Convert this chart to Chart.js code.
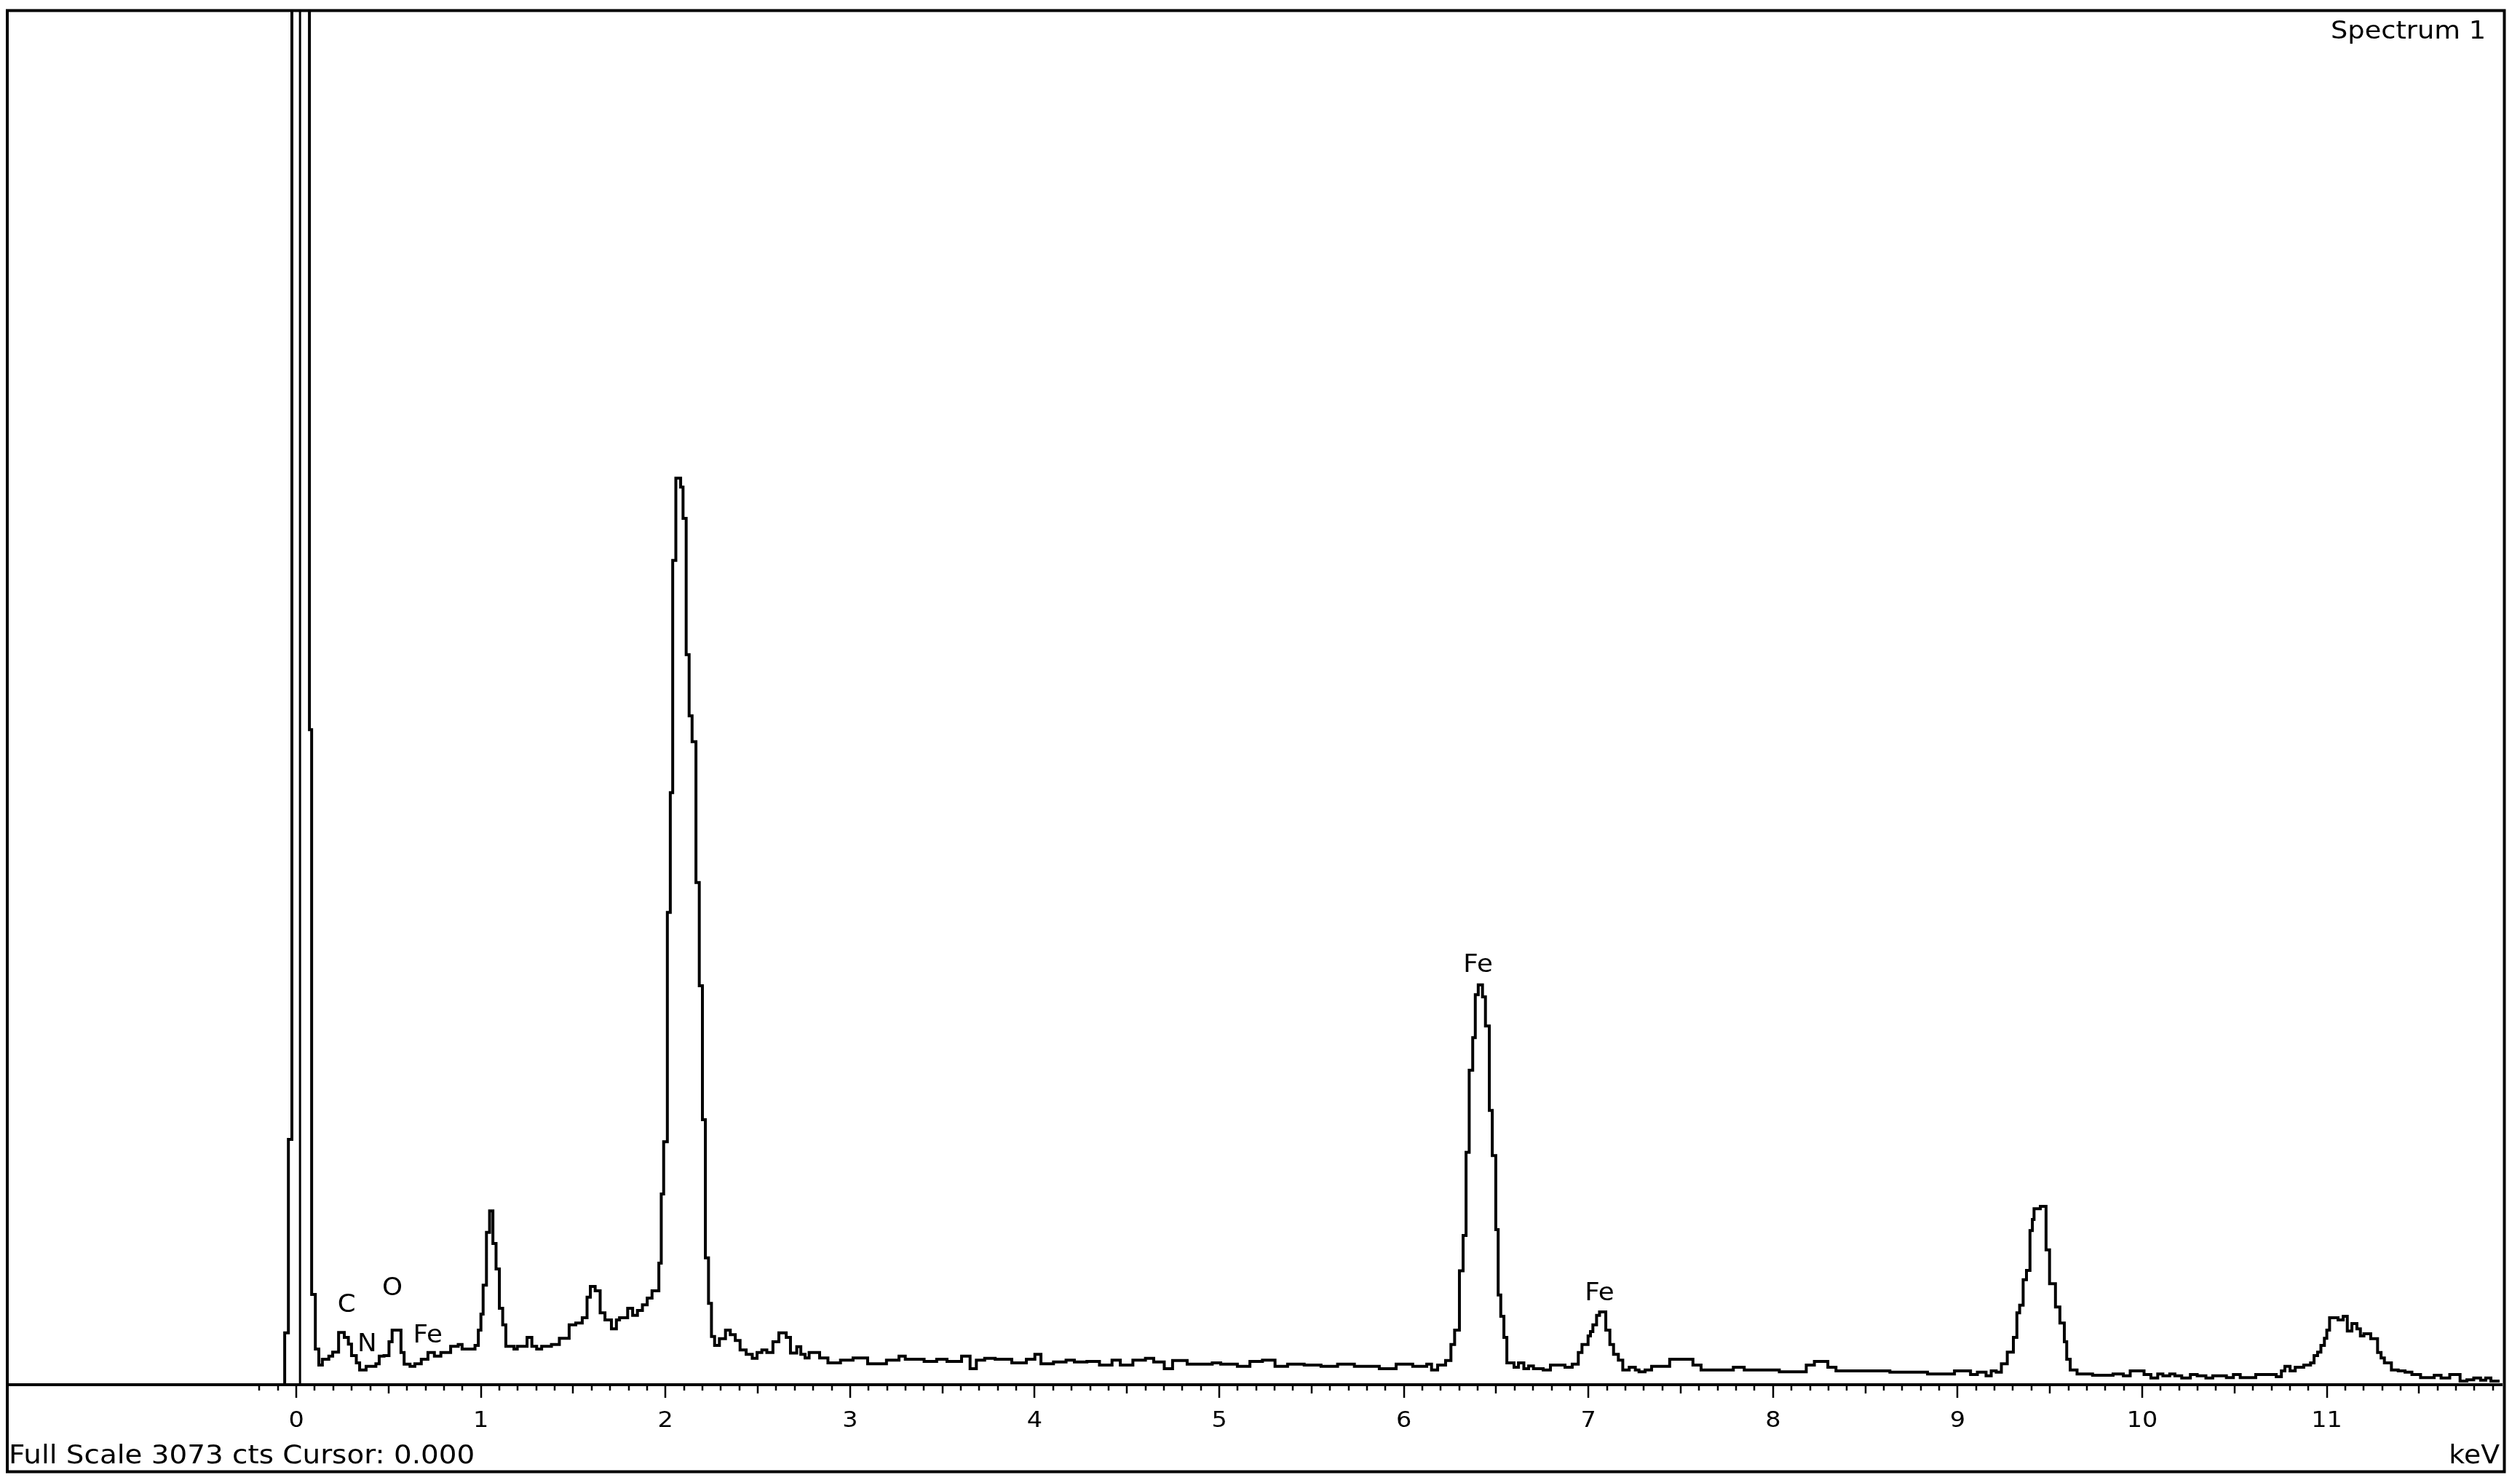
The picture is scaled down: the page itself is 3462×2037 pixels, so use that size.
<!DOCTYPE html>
<html lang="en">
<head>
    <meta charset="UTF-8">
    <title>Spectrum 1</title>
    <script src="https://cdn.jsdelivr.net/npm/chart.js"></script>
    <style>
        html, body {
            margin: 0;
            padding: 0;
            background-color: #ffffff;
        }
        canvas {
            display: block;
        }
    </style>
</head>
<body>
    <canvas id="spectrumChart" width="3462" height="2037"></canvas>
    <script>
        // Spectrum, one step = [start keV, counts]
        const zeroPeakKeV = [-0.083, -0.063, -0.043, -0.024, 0.071, 0.083, 0.103, 0.122];
        const zeroPeakCts = [0, 116, 549, 20000, 1466, 202, 80, 44];

        const lowKeV = [0.141, 0.176, 0.197, 0.229, 0.260, 0.282, 0.299, 0.325, 0.343, 0.378,
            0.431, 0.449, 0.475, 0.502, 0.519, 0.567, 0.584, 0.616, 0.642, 0.677,
            0.713, 0.748, 0.783, 0.836, 0.877, 0.898, 0.968, 0.986, 1.000, 1.012,
            1.030, 1.047, 1.065, 1.082, 1.100, 1.118, 1.135, 1.179, 1.197, 1.250,
            1.276, 1.302, 1.329, 1.382, 1.425, 1.478, 1.514, 1.549, 1.575, 1.593,
            1.619, 1.646, 1.672, 1.707, 1.734, 1.751, 1.795, 1.822, 1.848, 1.875,
            1.901, 1.927];
        const lowCts = [57, 64, 73, 117, 106, 91, 65, 49, 33, 41,
            47, 64, 65, 96, 122, 72, 46, 41, 47, 57,
            72, 64, 72, 86, 90, 80, 88, 122, 158, 223,
            341, 389, 316, 259, 171, 134, 86, 80, 86, 106,
            86, 80, 86, 90, 104, 134, 138, 150, 196, 220,
            210, 161, 145, 125, 145, 150, 171, 155, 166, 179,
            194, 210];

        const mainKeV = [1.964, 1.977, 1.990, 2.010, 2.026, 2.039, 2.056, 2.082, 2.095, 2.112,
            2.128, 2.144, 2.165, 2.183, 2.200, 2.216, 2.233, 2.249, 2.266, 2.292,
            2.325, 2.351, 2.378, 2.404, 2.437, 2.470, 2.496, 2.522, 2.549, 2.582,
            2.614, 2.654];
        const mainCts = [272, 427, 544, 1057, 1325, 1845, 2029, 2009, 1939, 1634,
            1497, 1439, 1124, 893, 593, 284, 182, 108, 88, 103,
            122, 112, 99, 78, 68, 59, 72, 78, 72, 96,
            116, 106];

        const midKeV = [2.677, 2.711, 2.733, 2.756, 2.778, 2.835, 2.880, 2.948, 3.016, 3.095,
            3.197, 3.265, 3.299, 3.401, 3.469, 3.525, 3.604, 3.650, 3.684, 3.729,
            3.786, 3.876, 3.955, 4.001, 4.034, 4.102, 4.170, 4.215, 4.283, 4.351,
            4.419, 4.464, 4.532, 4.600, 4.645, 4.702, 4.747, 4.826, 4.962, 5.008,
            5.098, 5.166, 5.234, 5.302, 5.370, 5.460, 5.551, 5.641, 5.732, 5.867,
            5.958, 6.048];
        const midCts = [71, 85, 68, 60, 72, 60, 49, 55, 60, 47,
            55, 64, 57, 52, 57, 52, 64, 36, 55, 59,
            57, 49, 57, 68, 47, 51, 55, 51, 52, 44,
            55, 44, 55, 59, 51, 36, 54, 46, 49, 46,
            41, 52, 55, 41, 46, 44, 41, 46, 41, 36,
            46, 41];

        const feKeV = [6.124, 6.150, 6.183, 6.226, 6.255, 6.275, 6.301, 6.321, 6.337, 6.354,
            6.373, 6.387, 6.403, 6.426, 6.442, 6.463, 6.479, 6.498, 6.511, 6.525,
            6.542, 6.558, 6.597, 6.621, 6.650, 6.676, 6.702, 6.755, 6.794, 6.873,
            6.912, 6.945, 6.965, 6.998, 7.011, 7.024, 7.044, 7.060, 7.094, 7.116,
            7.136, 7.162, 7.186, 7.221, 7.254, 7.274];
        const feCts = [46, 33, 44, 54, 90, 122, 255, 334, 520, 704,
            777, 873, 895, 868, 803, 614, 513, 347, 201, 153,
            106, 49, 39, 49, 36, 42, 36, 33, 44, 39,
            46, 72, 90, 109, 119, 134, 155, 163, 122, 90,
            68, 55, 33, 39, 33, 29];

        const gapKeV = [7.307, 7.342, 7.440, 7.566, 7.610, 7.785, 7.844, 8.034, 8.180, 8.224,
            8.297, 8.341, 8.633, 8.837, 8.983];
        const gapCts = [33, 41, 57, 44, 33, 39, 33, 29, 44, 52,
            39, 31, 28, 24, 31];

        const highKeV = [9.042, 9.070, 9.107, 9.154, 9.182, 9.209, 9.237, 9.269, 9.302, 9.321,
            9.336, 9.355, 9.373, 9.392, 9.405, 9.414, 9.448, 9.479, 9.498, 9.530,
            9.554, 9.578, 9.591, 9.610, 9.647, 9.731, 9.842, 9.898, 9.935, 10.010,
            10.047, 10.084, 10.112, 10.149, 10.177, 10.214, 10.261, 10.298, 10.345, 10.382,
            10.456, 10.494, 10.531, 10.615, 10.726, 10.754, 10.773, 10.801, 10.829, 10.875,
            10.912, 10.931, 10.950, 10.968, 10.987, 11.000, 11.015, 11.061, 11.089, 11.111,
            11.136, 11.163, 11.182, 11.201, 11.238, 11.275, 11.294, 11.312, 11.350, 11.387,
            11.424, 11.461, 11.508, 11.582, 11.619, 11.666, 11.722, 11.759, 11.796, 11.833,
            11.861, 11.889, 11.936];
        const highCts = [31, 23, 28, 20, 31, 28, 47, 73, 106, 161,
            178, 235, 256, 345, 370, 394, 399, 302, 226, 174,
            138, 96, 57, 33, 24, 21, 24, 20, 31, 23,
            15, 24, 20, 24, 20, 15, 23, 20, 15, 20,
            16, 23, 16, 23, 18, 31, 41, 31, 39, 44,
            49, 65, 73, 88, 104, 122, 150, 145, 153, 120,
            137, 125, 109, 114, 103, 72, 60, 49, 33, 31,
            28, 23, 16, 21, 15, 23, 8, 11, 15, 10,
            15, 8, 8];

        // Peak markers
        const peakNames = ['C', 'N', 'O', 'Fe', 'Fe', 'Fe'];
        const peakKeV = [0.272, 0.383, 0.520, 0.712, 6.402, 7.060];
        const peakCts = [182, 94, 220, 114, 943, 209];

        // Axis
        const tickValues = [0, 1, 2, 3, 4, 5, 6, 7, 8, 9, 10, 11];
        const tickLabels = ['0', '1', '2', '3', '4', '5', '6', '7', '8', '9', '10', '11'];
        const xMin = -1.558;
        const xMax = 11.952;
        const fullScale = 3073;
        const cursorKeV = 0.02;

        const titleText = 'Spectrum 1';
        const footerText = 'Full Scale 3073 cts Cursor: 0.000';
        const unitText = 'keV';

        const points = [];
        function addSegment(kev, cts) {
            kev.forEach((e, i) => points.push({ x: e, y: cts[i] }));
        }
        addSegment(zeroPeakKeV, zeroPeakCts);
        addSegment(lowKeV, lowCts);
        addSegment(mainKeV, mainCts);
        addSegment(midKeV, midCts);
        addSegment(feKeV, feCts);
        addSegment(gapKeV, gapCts);
        addSegment(highKeV, highCts);

        function drawText(ctx, str, px, py, size, align) {
            ctx.save();
            ctx.font = size + 'px "DejaVu Sans"';
            ctx.textAlign = align;
            ctx.textBaseline = 'alphabetic';
            ctx.translate(px, py);
            ctx.scale(1.08, 1);
            ctx.fillText(str, 0, 0);
            ctx.restore();
        }

        // Frame, axis, ticks, cursor and texts
        const framePlugin = {
            id: 'frame',
            afterDraw(chart) {
                const ctx = chart.ctx;
                const a = chart.chartArea;
                const x = chart.scales.x;
                const y = chart.scales.y;
                ctx.save();
                ctx.strokeStyle = '#000';
                ctx.fillStyle = '#000';

                ctx.lineWidth = 4;
                ctx.strokeRect(10, 14.5, 3430.5, 2007);

                ctx.beginPath();
                ctx.moveTo(a.left, a.bottom);
                ctx.lineTo(a.right, a.bottom);
                ctx.stroke();

                ctx.lineWidth = 2.5;
                ctx.beginPath();
                for (let i = -2; i <= 119; i++) {
                    const px = Math.round(x.getPixelForValue(i / 10));
                    const len = i % 10 === 0 ? 18 : (i % 5 === 0 ? 12 : 8);
                    ctx.moveTo(px, a.bottom);
                    ctx.lineTo(px, a.bottom + len);
                }
                ctx.stroke();

                tickValues.forEach((v, i) => {
                    drawText(ctx, tickLabels[i], x.getPixelForValue(v), 1960, 31, 'center');
                });

                // cursor line
                ctx.lineWidth = 3;
                ctx.beginPath();
                const cx = x.getPixelForValue(cursorKeV);
                ctx.moveTo(cx, a.bottom);
                ctx.lineTo(cx, a.top);
                ctx.stroke();

                peakNames.forEach((n, i) => {
                    drawText(ctx, n, x.getPixelForValue(peakKeV[i]), y.getPixelForValue(peakCts[i]) + 12, 33, 'center');
                });

                drawText(ctx, titleText, 3415, 53, 34, 'right');
                drawText(ctx, footerText, 12, 2010, 36, 'left');
                drawText(ctx, unitText, 3434, 2010, 35, 'right');
                ctx.restore();
            }
        };

        const ctx = document.getElementById('spectrumChart').getContext('2d');
        new Chart(ctx, {
            type: 'line',
            data: {
                datasets: [{
                    label: titleText,
                    data: points,
                    stepped: true,
                    borderColor: '#000000',
                    borderWidth: 4,
                    pointRadius: 0,
                    fill: false
                }]
            },
            options: {
                responsive: false,
                animation: false,
                devicePixelRatio: 1,
                layout: {
                    padding: { left: 12, right: 24, top: 16, bottom: 135 }
                },
                plugins: {
                    legend: { display: false },
                    tooltip: { enabled: false }
                },
                scales: {
                    x: { type: 'linear', min: xMin, max: xMax, display: false },
                    y: { type: 'linear', min: 0, max: fullScale, display: false }
                }
            },
            plugins: [framePlugin]
        });
    </script>
</body>
</html>
